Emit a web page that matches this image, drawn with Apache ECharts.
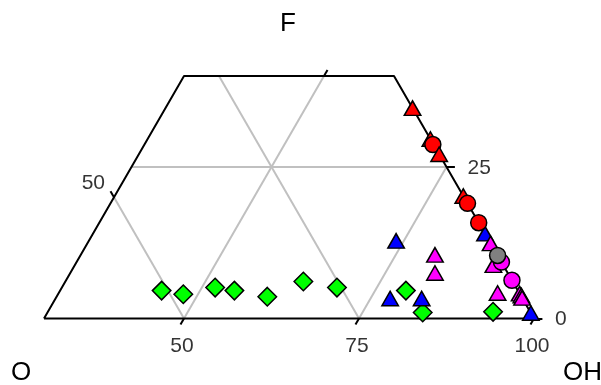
<!DOCTYPE html>
<html>
<head>
<meta charset="utf-8">
<script src="https://cdn.jsdelivr.net/npm/echarts@6/dist/echarts.min.js"></script>
<style>
html, body { margin: 0; padding: 0; background: #fff; }
#chart { width: 601px; height: 385px; }
</style>
</head>
<body>
<div id="chart"></div>
<script>
// Compositions as [OH, F]; O = 100 - OH - F
const greenDiamonds = [[44.5, 4.6], [47.9, 4.0], [51.9, 5.1], [54.9, 4.6], [60.1, 3.6], [64.0, 6.1], [69.3, 5.1], [79.4, 4.6], [83.6, 1.0], [93.6, 1.1]];
const blueTriangles = [[73.9, 12.8], [77.8, 3.3], [82.3, 3.3], [86.0, 14.0], [99.1, 0.9]];
const magentaTriangles = [[80.6, 10.5], [82.1, 7.5], [92.7, 4.2], [87.6, 12.4], [89.8, 8.8], [95.9, 4.1], [96.3, 3.8], [96.6, 3.4]];
const redTriangles = [[65.3, 34.7], [70.4, 29.6], [79.8, 20.2]];
const redCircles = [[71.2, 28.7], [81.0, 19.0], [84.2, 15.8]];
const redTrianglesFront = [[72.9, 27.1]];
const magentaCircles = [[90.7, 9.3], [93.7, 6.3]];
const grayCircles = [[89.6, 10.4]];

// Visible window of the diagram
const ohMin = 30;   // left edge
const fMax = 40;    // top edge

// Axis ticks / labels
const bottomTicks = [50, 75, 100]; // OH
const rightTicks = [0, 25];        // F
const leftTicks = [50];            // O
const topTicks = [50];             // OH, unlabeled
// Grid lines
const gridOH = [50, 75];
const gridO = [25, 50];
const gridF = [25];

const H = Math.sqrt(3) / 2;
// ternary (OH, F) -> plane coordinates
function tp(oh, f) { return [oh + f / 2, f * H]; }

const frame = [[ohMin, 0], [ohMin, fMax], [100 - fMax, fMax], [100, 0], [ohMin, 0]].map(p => tp(p[0], p[1]));

const gridSegs = [];
gridOH.forEach(c => gridSegs.push({ coords: [tp(c, 0), tp(c, Math.min(fMax, 100 - c))] }));
gridO.forEach(c => {
  const ft = Math.min(fMax, 100 - c - ohMin);
  gridSegs.push({ coords: [tp(100 - c, 0), tp(100 - c - ft, ft)] });
});
gridF.forEach(c => gridSegs.push({ coords: [tp(ohMin, c), tp(100 - c, c)] }));

const tickSegs = [];
bottomTicks.forEach(v => tickSegs.push({ coords: [tp(v, 0), tp(v, -1)] }));
rightTicks.forEach(v => tickSegs.push({ coords: [tp(100 - v, v), tp(100 - v + 1.2, v)] }));
leftTicks.forEach(v => tickSegs.push({ coords: [tp(ohMin, 100 - v - ohMin), tp(ohMin - 1, 101 - v - ohMin)] }));
topTicks.forEach(v => tickSegs.push({ coords: [tp(v, fMax), tp(v, fMax + 1)] }));

const FONT = 'Liberation Sans, Arial, sans-serif';

function pts(arr) { return arr.map(p => tp(p[0], p[1])); }
function scatter(name, data, symbol, size, color, z) {
  return {
    name, type: 'scatter', data: pts(data), symbol, symbolSize: size, z,
    itemStyle: { color, borderColor: '#000', borderWidth: 1.5, opacity: 1 },
    emphasis: { disabled: true }
  };
}
function labelSeries(items, pos, dist, offset) {
  return {
    type: 'scatter', symbolSize: 0, z: 5,
    data: items.map(it => ({ value: it.xy, name: String(it.text) })),
    label: { show: true, position: pos, distance: dist, offset, formatter: p => p.name,
             color: '#000', fontSize: 21, fontFamily: FONT },
    emphasis: { disabled: true }
  };
}

const chart = echarts.init(document.getElementById('chart'), null, { renderer: 'canvas' });
chart.setOption({
  animation: false,
  backgroundColor: '#fff',
  grid: { left: 9, top: 3.5, width: 560, height: 350 },
  xAxis: { type: 'value', min: 25, max: 105, show: false },
  yAxis: { type: 'value', min: -5, max: 45, show: false },
  graphic: [
    { type: 'text', left: 280, top: 11, style: { text: 'F', fontSize: 26, fontFamily: FONT, fill: '#000' } },
    { type: 'text', left: 11, top: 360, style: { text: 'O', fontSize: 26, fontFamily: FONT, fill: '#000' } },
    { type: 'text', left: 563, top: 360, style: { text: 'OH', fontSize: 26, fontFamily: FONT, fill: '#000' } }
  ],
  series: [
    { type: 'lines', coordinateSystem: 'cartesian2d', z: 1, data: gridSegs,
      lineStyle: { color: '#c0c0c0', width: 2, opacity: 1 }, silent: true },
    { type: 'lines', coordinateSystem: 'cartesian2d', z: 2, data: tickSegs,
      lineStyle: { color: '#000', width: 2, opacity: 1 }, silent: true },
    { type: 'line', data: frame, symbol: 'none', z: 2, silent: true,
      lineStyle: { color: '#000', width: 2 } },
    labelSeries(bottomTicks.map(v => ({ xy: tp(v, 0), text: v })), 'bottom', 17, [-2, 0]),
    labelSeries(rightTicks.map(v => ({ xy: tp(100 - v, v), text: v })), 'right', 21, [0, 1]),
    labelSeries(leftTicks.map(v => ({ xy: tp(ohMin, 100 - v - ohMin), text: v })), 'left', 9, [0, -14]),
    scatter('green', greenDiamonds, 'diamond', 18.5, '#00ff00', 10),
    scatter('blueT', blueTriangles, 'triangle', [16.5, 14.5], '#0000ff', 11),
    scatter('magT', magentaTriangles, 'triangle', [16.5, 14.5], '#ff00ff', 12),
    scatter('redT', redTriangles, 'triangle', [16.5, 14.5], '#ff0000', 13),
    scatter('redC', redCircles, 'circle', 16, '#ff0000', 14),
    scatter('redT2', redTrianglesFront, 'triangle', [16.5, 14.5], '#ff0000', 15),
    scatter('magC', magentaCircles, 'circle', 16, '#ff00ff', 15),
    scatter('grayC', grayCircles, 'circle', 16, '#808080', 16)
  ]
});
</script>
</body>
</html>
